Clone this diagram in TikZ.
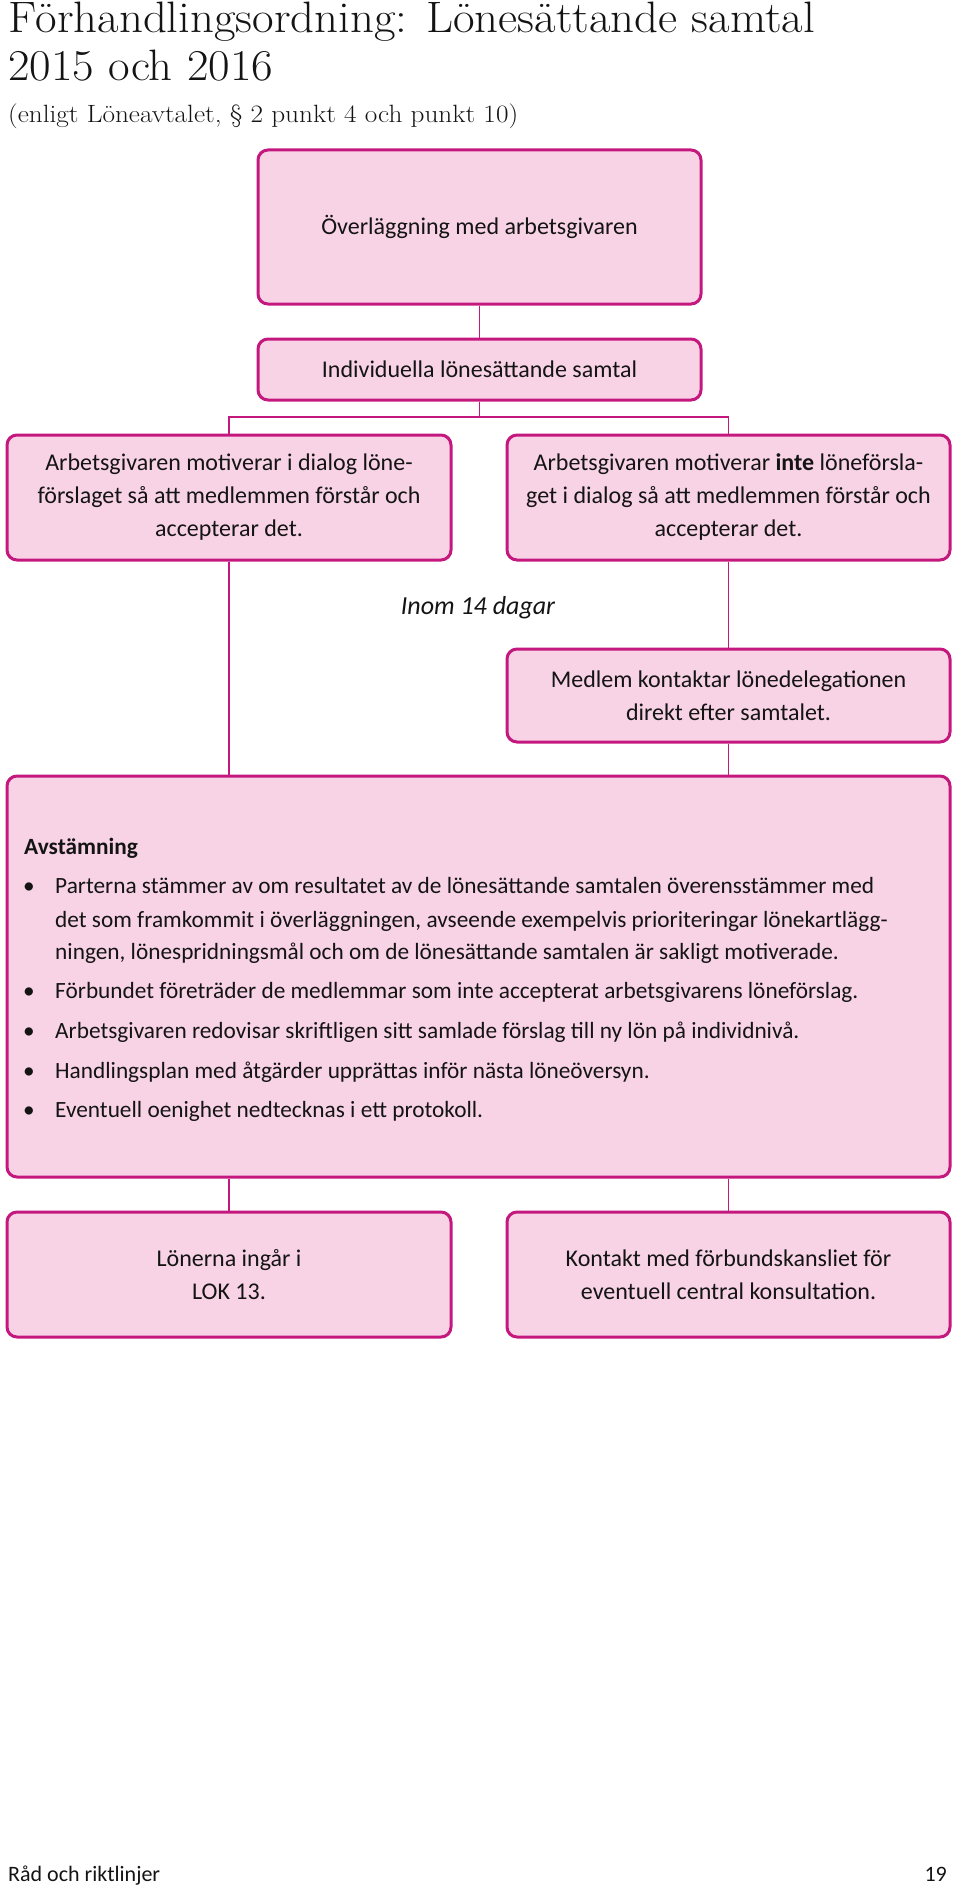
\documentclass[tikz,border=0pt]{standalone}
\usepackage{fontspec}
\newfontfamily\bodyfont{Carlito}
\usepackage{graphicx}
\definecolor{mag}{HTML}{C4187F}
\definecolor{pinkfill}{HTML}{F8D3E5}
\begin{document}
\begin{tikzpicture}[x=1pt,y=-1pt,
  pbox/.style={draw=mag, line width=3pt, fill=pinkfill, rounded corners=10pt, inner sep=0pt, align=center,
     font=\bodyfont\fontsize{24}{33}\selectfont, text=black!92},
  conn/.style={draw=mag, line width=1.5pt},
  txt/.style={anchor=base west, inner sep=0pt, font=\bodyfont\fontsize{23.3}{33}\selectfont, text=black!92},
  bul/.style={anchor=base, inner sep=0pt, font=\bodyfont\fontsize{23.3}{33}\selectfont, text=black!92}]
\useasboundingbox (0,0) rectangle (960,1886);
% title
\node[anchor=base west, inner sep=0pt, font=\rmfamily\fontsize{44}{50}\selectfont, text=black!92] (t1) at (8,33)
  {\scalebox{1.065}[1]{Förhandlingsordning: Lönesättande samtal}};
\node[anchor=base west, inner sep=0pt, font=\rmfamily\fontsize{44}{50}\selectfont, text=black!92] (t2) at (8,81)
  {\scalebox{1.065}[1]{2015 och 2016}};
\node[anchor=base west, inner sep=0pt, font=\rmfamily\fontsize{25}{28}\selectfont, text=black!92] (t3) at (8,123)
  {\scalebox{1.09}[1]{(enligt Löneavtalet, § 2 punkt 4 och punkt 10)}};
% boxes
\node[pbox, minimum width=443, minimum height=154] (top) at (479.5,227) {Överläggning med arbetsgivaren};
\node[pbox, minimum width=443, minimum height=61] (ind) at (479.5,369.5) {Individuella lönesättande samtal};
\node[pbox, minimum width=444, minimum height=125] (la) at (229,497.5)
  {Arbetsgivaren motiverar i dialog löne-\\förslaget så att medlemmen förstår och\\accepterar det.};
\node[pbox, minimum width=443, minimum height=125] (ra) at (728.5,497.5)
  {Arbetsgivaren motiverar \textbf{inte} löneförsla-\\get i dialog så att medlemmen förstår och\\accepterar det.};
\node[inner sep=0pt, font=\bodyfont\itshape\fontsize{26}{30}\selectfont, text=black!92] (inom) at (478,608) {Inom 14 dagar};
\node[pbox, minimum width=443, minimum height=93] (med) at (728.5,695.5)
  {Medlem kontaktar lönedelegationen\\direkt efter samtalet.};
\node[pbox, minimum width=943, minimum height=401] (avst) at (478.5,976.5) {};
\node[pbox, minimum width=444, minimum height=125] (lb) at (229,1274.5) {Lönerna ingår i\\LOK 13.};
\node[pbox, minimum width=443, minimum height=125] (rb) at (728.5,1274.5)
  {Kontakt med förbundskansliet för\\eventuell central konsultation.};
% Avstämning text
\node[txt, font=\bodyfont\bfseries\fontsize{23.3}{33}\selectfont] (avh) at (24,854) {Avstämning};
\node[bul] (d1) at (29,893) {•};
\node[txt] (b1a) at (55,893) {Parterna stämmer av om resultatet av de lönesättande samtalen överensstämmer med};
\node[txt] (b1b) at (55,927) {det som framkommit i överläggningen, avseende exempelvis prioriteringar lönekartlägg-};
\node[txt] (b1c) at (55,959) {ningen, lönespridningsmål och om de lönesättande samtalen är sakligt motiverade.};
\node[bul] (d2) at (29,998) {•};
\node[txt] (b2) at (55,998) {Förbundet företräder de medlemmar som inte accepterat arbetsgivarens löneförslag.};
\node[bul] (d3) at (29,1038) {•};
\node[txt] (b3) at (55,1038) {Arbetsgivaren redovisar skriftligen sitt samlade förslag till ny lön på individnivå.};
\node[bul] (d4) at (29,1078) {•};
\node[txt] (b4) at (55,1078) {Handlingsplan med åtgärder upprättas inför nästa löneöversyn.};
\node[bul] (d5) at (29,1117) {•};
\node[txt] (b5) at (55,1117) {Eventuell oenighet nedtecknas i ett protokoll.};
% footer
\node[txt, font=\bodyfont\fontsize{22}{25}\selectfont] (f1) at (8,1881) {Råd och riktlinjer};
\node[anchor=base east, inner sep=0pt, font=\bodyfont\fontsize{22}{25}\selectfont, text=black!92] (f2) at (947,1881) {19};
% connectors
\coordinate (j) at (479.5,417);
\draw[conn] (top.south) -- (ind.north);
\draw[conn] (ind.south) -- (j);
\draw[conn] (j) -| (la.north);
\draw[conn] (j) -| (ra.north);
\draw[conn] (la.south) -- (la.south |- avst.north);
\draw[conn] (ra.south) -- (med.north);
\draw[conn] (med.south) -- (med.south |- avst.north);
\draw[conn] (lb.north |- avst.south) -- (lb.north);
\draw[conn] (rb.north |- avst.south) -- (rb.north);
\end{tikzpicture}
\end{document}
